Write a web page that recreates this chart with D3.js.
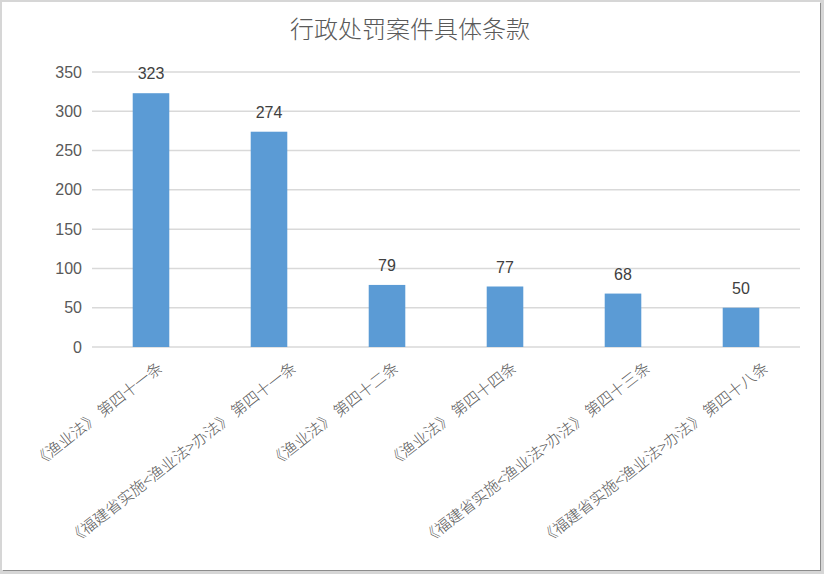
<!DOCTYPE html>
<html>
<head>
<meta charset="utf-8">
<script src="https://cdn.jsdelivr.net/npm/d3@7"></script>
<style>
  body { margin: 0; background: #d6d6d6; }
  svg { display: block; }
</style>
</head>
<body>
<svg></svg>
<script>
// chart data
const categories = [
  '《渔业法》 第四十一条',
  '《福建省实施<渔业法>办法》 第四十一条',
  '《渔业法》 第四十二条',
  '《渔业法》 第四十四条',
  '《福建省实施<渔业法>办法》 第四十三条',
  '《福建省实施<渔业法>办法》 第四十八条'
];
const counts = [323, 274, 79, 77, 68, 50];
const yTicks = [0, 50, 100, 150, 200, 250, 300, 350];
const title = '行政处罚案件具体条款';

const width = 824;
const height = 574;

const svg = d3.select('svg')
  .attr('width', width)
  .attr('height', height);

// white card with a soft shadow on right/bottom
svg.append('rect')
  .attr('x', 3).attr('y', 3)
  .attr('width', 818).attr('height', 568)
  .attr('fill', '#8c8c8c');
svg.append('rect')
  .attr('x', 2).attr('y', 2)
  .attr('width', 818).attr('height', 568)
  .attr('fill', '#ffffff');

const plot = { left: 92, right: 800, top: 72, bottom: 347 };

const x = d3.scaleBand()
  .domain(categories)
  .range([plot.left, plot.right])
  .paddingInner(0.69)
  .paddingOuter(0.345);

const y = d3.scaleLinear()
  .domain([0, 350])
  .range([plot.bottom, plot.top]);

// gridlines
svg.append('g')
  .selectAll('line')
  .data(yTicks)
  .enter().append('line')
  .attr('x1', plot.left)
  .attr('x2', plot.right)
  .attr('y1', d => y(d))
  .attr('y2', d => y(d))
  .attr('stroke', '#d9d9d9')
  .attr('stroke-width', 1.5);

// y axis labels
const yAxis = svg.append('g')
  .attr('transform', `translate(${plot.left},0)`)
  .call(d3.axisLeft(y).tickValues(yTicks).tickSize(0).tickPadding(10));
yAxis.select('.domain').remove();
yAxis.selectAll('text')
  .attr('fill', '#595959')
  .style('font-family', '"Liberation Sans", Arial, sans-serif')
  .style('font-size', '16px');

// bars
svg.append('g')
  .selectAll('rect')
  .data(counts)
  .enter().append('rect')
  .attr('x', (d, i) => x(categories[i]))
  .attr('y', d => y(d))
  .attr('width', x.bandwidth())
  .attr('height', d => y(0) - y(d))
  .attr('fill', '#5b9bd5');

// value labels
svg.append('g')
  .selectAll('text')
  .data(counts)
  .enter().append('text')
  .attr('x', (d, i) => x(categories[i]) + x.bandwidth() / 2)
  .attr('y', d => y(d) - 14)
  .attr('text-anchor', 'middle')
  .attr('fill', '#404040')
  .style('font-family', '"Liberation Sans", Arial, sans-serif')
  .style('font-size', '16px')
  .text(d => d);

// category labels, rotated; longer labels sit a little further right
const xAxis = svg.append('g')
  .attr('transform', `translate(0,${plot.bottom})`)
  .call(d3.axisBottom(x).tickSize(0).tickPadding(0));
xAxis.select('.domain').remove();
xAxis.selectAll('text')
  .attr('text-anchor', 'end')
  .attr('dy', null)
  .attr('y', 0)
  .attr('fill', '#595959')
  .style('font-family', '"Noto Sans CJK SC", sans-serif')
  .style('font-weight', 300)
  .style('font-size', '15.5px')
  .attr('transform', function () {
    const len = this.getComputedTextLength();
    const shift = -7 + 0.125 * len;
    return `translate(${shift},23) rotate(-38)`;
  });

// title
svg.append('text')
  .attr('x', 410)
  .attr('y', 38)
  .attr('text-anchor', 'middle')
  .attr('fill', '#595959')
  .style('font-family', '"Noto Sans CJK SC", sans-serif')
  .style('font-weight', 300)
  .style('font-size', '24px')
  .text(title);
</script>
</body>
</html>
